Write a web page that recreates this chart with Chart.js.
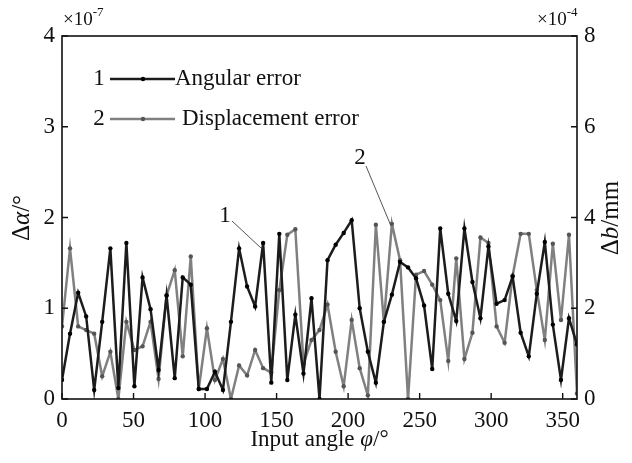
<!DOCTYPE html>
<html>
<head>
<meta charset="utf-8">
<script src="https://cdn.jsdelivr.net/npm/chart.js@4.4.1/dist/chart.umd.min.js"></script>
<style>
  html, body { margin: 0; padding: 0; background: #fff; }
  #wrap { width: 632px; height: 463px; }
</style>
</head>
<body>
<div id="wrap"><canvas id="myChart" width="632" height="463"></canvas></div>
<script>
// input angle (deg)
const angles = [
  0, 5.6, 11.3, 16.9, 22.5, 28.1, 33.8, 39.4, 45, 50.6, 56.3, 61.9, 67.5, 73.1, 78.8, 84.4,
  90, 95.6, 101.3, 106.9, 112.5, 118.1, 123.8, 129.4, 135, 140.6, 146.3, 151.9, 157.5, 163.1,
  168.8, 174.4, 180, 185.6, 191.3, 196.9, 202.5, 208.1, 213.8, 219.4, 225, 230.6, 236.3,
  241.9, 247.5, 253.1, 258.8, 264.4, 270, 275.6, 281.3, 286.9, 292.5, 298.1, 303.8, 309.4,
  315, 320.6, 326.3, 331.9, 337.5, 343.1, 348.8, 354.4, 360,
];

// angular error, x1e-7 deg (left axis)
const angularError = [
  0.21, 0.72, 1.17, 0.91, 0.10, 0.85, 1.66, 0.12, 1.72, 0.14, 1.34, 0.99, 0.32, 1.14, 0.23, 1.34,
  1.26, 0.11, 0.11, 0.30, 0.10, 0.85, 1.66, 1.24, 1.02, 1.72, 0.18, 1.82, 0.21, 0.93,
  0.28, 1.11, 0.00, 1.53, 1.70, 1.83, 1.97, 1.00, 0.52, 0.18, 0.85, 1.15, 1.51,
  1.45, 1.33, 1.03, 0.33, 1.88, 1.16, 0.86, 1.88, 1.29, 0.89, 1.68, 1.05, 1.09,
  1.35, 0.73, 0.47, 1.16, 1.73, 0.82, 0.21, 0.89, 0.60,
];

// displacement error, x1e-4 mm (right axis)
const displacementError = [
  1.60, 3.32, 1.60, 1.52, 1.44, 0.50, 1.04, 0.00, 1.70, 1.08, 1.16, 1.70, 0.44, 2.28, 2.84, 0.94,
  3.14, 0.22, 1.56, 0.42, 0.88, 0.00, 0.74, 0.52, 1.08, 0.68, 0.58, 2.40, 3.62, 3.74,
  0.78, 1.30, 1.52, 2.08, 1.04, 0.28, 1.74, 0.68, 0.08, 3.84, 1.70, 3.86, 3.06,
  0.00, 2.74, 2.82, 2.52, 2.18, 0.84, 3.10, 0.88, 1.46, 3.56, 3.44, 1.60, 1.24,
  2.72, 3.64, 3.64, 2.40, 1.30, 3.42, 1.74, 3.62, 0.12,
];

const xTicks = [0, 50, 100, 150, 200, 250, 300, 350];
const leftTicks = [0, 1, 2, 3, 4];
const rightTicks = [0, 2, 4, 6, 8];

const SERIF = "'Liberation Serif', 'Times New Roman', serif";
const BLACK = '#1c1c1c';
const GREY = '#808080';

function richText(ctx, parts, x, y, size) {
  // parts: [text, italic]
  let total = 0;
  const widths = parts.map(([t, it]) => {
    ctx.font = (it ? 'italic ' : '') + size + 'px ' + SERIF;
    const w = ctx.measureText(t).width;
    total += w;
    return w;
  });
  let cx = x - total / 2;
  ctx.textAlign = 'left';
  ctx.textBaseline = 'middle';
  parts.forEach(([t, it], i) => {
    ctx.font = (it ? 'italic ' : '') + size + 'px ' + SERIF;
    ctx.fillText(t, cx, y);
    cx += widths[i];
  });
}

const decor = {
  id: 'decor',
  afterDraw(chart) {
    const { ctx, chartArea: a, scales } = chart;
    ctx.save();
    ctx.strokeStyle = '#111';
    ctx.fillStyle = '#111';
    ctx.lineWidth = 1.6;
    ctx.strokeRect(a.left, a.top, a.right - a.left, a.bottom - a.top);

    // inward ticks
    ctx.lineWidth = 1.4;
    ctx.beginPath();
    xTicks.forEach(v => {
      const px = scales.x.getPixelForValue(v);
      ctx.moveTo(px, a.bottom);
      ctx.lineTo(px, a.bottom - 6);
    });
    leftTicks.forEach(v => {
      const py = scales.y.getPixelForValue(v);
      ctx.moveTo(a.left, py);
      ctx.lineTo(a.left + 6, py);
    });
    rightTicks.forEach(v => {
      const py = scales.y2.getPixelForValue(v);
      ctx.moveTo(a.right, py);
      ctx.lineTo(a.right - 6, py);
    });
    ctx.stroke();

    // exponents
    ctx.textAlign = 'left';
    ctx.textBaseline = 'alphabetic';
    ctx.font = '19px ' + SERIF;
    ctx.fillText('×10', 63, 25);
    let w = ctx.measureText('×10').width;
    ctx.font = '13px ' + SERIF;
    ctx.fillText('-7', 63 + w, 16);
    ctx.font = '19px ' + SERIF;
    ctx.fillText('×10', 537, 25);
    w = ctx.measureText('×10').width;
    ctx.font = '13px ' + SERIF;
    ctx.fillText('-4', 537 + w, 16);

    // axis titles
    richText(ctx, [['Input angle ', false], ['φ', true], ['/°', false]], (a.left + a.right) / 2, 440, 23);
    ctx.save();
    ctx.translate(22, 218);
    ctx.rotate(-Math.PI / 2);
    richText(ctx, [['Δ', false], ['α', true], ['/°', false]], 0, 0, 25);
    ctx.restore();
    ctx.save();
    ctx.translate(611, 218);
    ctx.rotate(-Math.PI / 2);
    richText(ctx, [['Δ', false], ['b', true], ['/mm', false]], 0, 0, 25);
    ctx.restore();

    // legend
    const rows = [
      ['1', 'Angular error', BLACK, 79, 175],
      ['2', 'Displacement error', GREY, 119, 182],
    ];
    rows.forEach(([num, label, col, y, tx]) => {
      ctx.fillStyle = '#111';
      ctx.font = '23px ' + SERIF;
      ctx.textAlign = 'center';
      ctx.textBaseline = 'middle';
      ctx.fillText(num, 99, y);
      ctx.strokeStyle = col;
      ctx.lineWidth = 2.6;
      ctx.beginPath();
      ctx.moveTo(110, y);
      ctx.lineTo(175, y);
      ctx.stroke();
      ctx.fillStyle = col === BLACK ? '#000' : '#555';
      ctx.beginPath();
      ctx.arc(143, y, 2.2, 0, Math.PI * 2);
      ctx.fill();
      ctx.fillStyle = '#111';
      ctx.textAlign = 'left';
      ctx.fillText(label, tx, y);
    });

    // curve labels
    ctx.font = '23px ' + SERIF;
    ctx.textAlign = 'center';
    ctx.textBaseline = 'middle';
    ctx.fillText('1', 225, 216);
    ctx.fillText('2', 360, 158);
    ctx.strokeStyle = '#555';
    ctx.lineWidth = 1;
    ctx.beginPath();
    ctx.moveTo(232, 221);
    ctx.lineTo(261, 248);
    ctx.moveTo(366, 166);
    ctx.lineTo(391, 226);
    ctx.stroke();
    ctx.restore();
  },
};

const ctx = document.getElementById('myChart');

new Chart(ctx, {
  type: 'line',
  data: {
    datasets: [
      {
        label: 'Angular error',
        data: angles.map((x, i) => ({ x, y: angularError[i] })),
        yAxisID: 'y',
        borderColor: BLACK,
        borderWidth: 2.5,
        pointRadius: 2.2,
        pointBackgroundColor: '#000',
        pointBorderWidth: 0,
        tension: 0,
        order: 0,
      },
      {
        label: 'Displacement error',
        data: angles.map((x, i) => ({ x, y: displacementError[i] })),
        yAxisID: 'y2',
        borderColor: GREY,
        borderWidth: 2.5,
        pointRadius: 2.2,
        pointBackgroundColor: '#555',
        pointBorderWidth: 0,
        tension: 0,
        order: 1,
      },
    ],
  },
  options: {
    responsive: false,
    animation: false,
    layout: { padding: { top: 36, left: 0, right: 0, bottom: 0 } },
    plugins: { legend: { display: false }, tooltip: { enabled: false } },
    scales: {
      x: {
        type: 'linear',
        min: 0,
        max: 360,
        afterBuildTicks: s => { s.ticks = xTicks.map(v => ({ value: v })); },
        afterFit: s => { s.height = 64; },
        grid: { display: false, drawTicks: false },
        border: { display: false },
        ticks: { color: '#111', padding: 8, maxRotation: 0, font: { family: SERIF, size: 23 } },
      },
      y: {
        position: 'left',
        min: 0,
        max: 4,
        afterBuildTicks: s => { s.ticks = leftTicks.map(v => ({ value: v })); },
        afterFit: s => { s.width = 62; },
        grid: { display: false, drawTicks: false },
        border: { display: false },
        ticks: { color: '#111', padding: 7, font: { family: SERIF, size: 23 } },
      },
      y2: {
        position: 'right',
        min: 0,
        max: 8,
        afterBuildTicks: s => { s.ticks = rightTicks.map(v => ({ value: v })); },
        afterFit: s => { s.width = 55; },
        grid: { display: false, drawTicks: false },
        border: { display: false },
        ticks: { color: '#111', padding: 7, font: { family: SERIF, size: 23 } },
      },
    },
  },
  plugins: [decor],
});
</script>
</body>
</html>
